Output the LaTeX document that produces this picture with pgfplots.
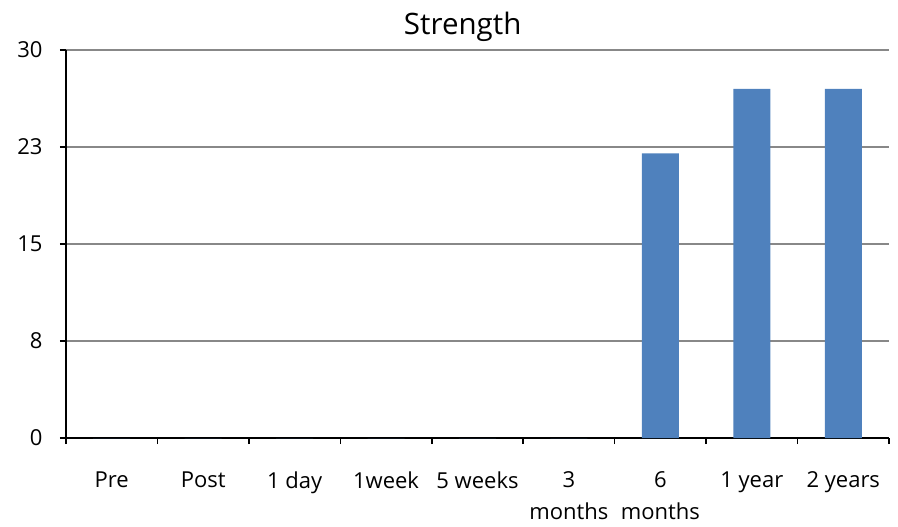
\documentclass[border=0pt]{standalone}
\usepackage{fontspec}
\setmainfont{Open Sans}
\usepackage{pgfplots}
\pgfplotsset{compat=1.18}
\definecolor{barblue}{HTML}{4F81BD}
\definecolor{gridgray}{HTML}{888888}
\begin{document}
\begin{tikzpicture}
\begin{axis}[
  scale only axis,
  width=823bp, height=388bp,
  xmin=-0.5, xmax=8.5,
  ymin=0, ymax=30,
  axis x line*=bottom, axis y line*=left,
  axis line style={black, line width=1.6bp},
  xtick={0,...,8},
  xticklabels={Pre, Post, 1 day, 1week, 5 weeks, {3\\months}, {6\\months}, 1 year, 2 years},
  major x tick style={draw=none},
  minor xtick={-0.5,0.5,...,8.5},
  minor tick length=6bp,
  minor x tick style={black, line width=1.6bp},
  tick align=outside,
  ytick={0,7.5,15,22.5,30},
  yticklabels={0,8,15,23,30},
  major tick length=6bp,
  y tick style={black, line width=1.6bp},
  ymajorgrids,
  grid style={gridgray, line width=1.6bp},
  tick label style={font=\fontsize{22bp}{32bp}\selectfont},
  xticklabel style={align=center, yshift=-24bp},
  yticklabel style={xshift=-14bp},
  title={Strength},
  title style={font=\fontsize{29.5bp}{32bp}\selectfont, at={(0.482,1)}, anchor=south, yshift=-1bp},
  ybar, bar width=37bp,
  clip=false,
]
\addplot[fill=barblue, draw=none] coordinates {(0,0) (1,0) (2,0) (3,0) (4,0) (5,0) (6,22) (7,27) (8,27)};
\end{axis}
\path (current axis.south west) ++(-66bp,-89bp) rectangle ++(898bp,527bp);
\end{tikzpicture}
\end{document}
